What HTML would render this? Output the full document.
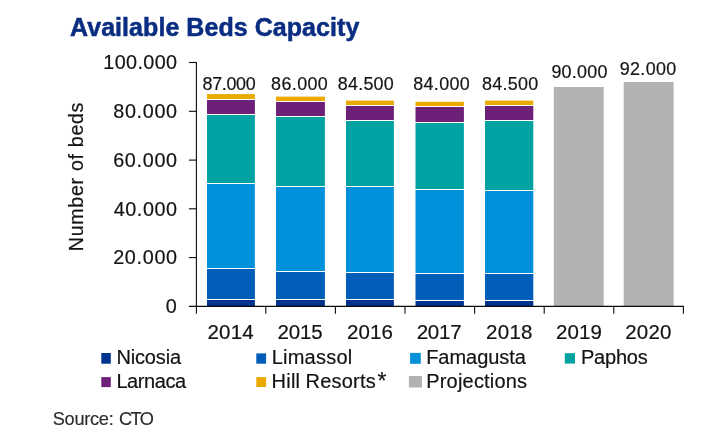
<!DOCTYPE html>
<html><head><meta charset="utf-8"><title>Available Beds Capacity</title>
<style>
html,body{margin:0;padding:0;background:#fff;}
body{width:715px;height:434px;overflow:hidden;font-family:"Liberation Sans",sans-serif;}
svg{display:block;}
svg text{font-family:"Liberation Sans",sans-serif;fill:#141414;stroke:#141414;stroke-width:0.2px;}
svg text.title{font-weight:bold;fill:#0a2d82;stroke:#0a2d82;stroke-width:0.5px;}
svg text.src{fill:#2b2b2b;stroke:#2b2b2b;stroke-width:0.15px;}
.ax line{stroke:#0a0a0a;stroke-width:1.1;}
</style></head><body>
<svg width="715" height="434" viewBox="0 0 715 434">
<rect width="715" height="434" fill="#fff"/>
<text x="70.00" y="36.00" font-size="25" letter-spacing="0.055" class="title">Available Beds Capacity</text>
<g><rect x="207.0" y="300.00" width="47.9" height="6.30" fill="#00338D"/>
<rect x="207.0" y="269.00" width="47.9" height="30.00" fill="#005EB8"/>
<rect x="207.0" y="184.00" width="47.9" height="84.00" fill="#0091DA"/>
<rect x="207.0" y="115.00" width="47.9" height="68.00" fill="#00A3A1"/>
<rect x="207.0" y="100.00" width="47.9" height="14.00" fill="#6D2077"/>
<rect x="207.0" y="94.10" width="47.9" height="4.90" fill="#EAAA00"/>
<rect x="276.0" y="300.00" width="48.9" height="6.30" fill="#00338D"/>
<rect x="276.0" y="272.00" width="48.9" height="27.00" fill="#005EB8"/>
<rect x="276.0" y="187.00" width="48.9" height="84.00" fill="#0091DA"/>
<rect x="276.0" y="117.00" width="48.9" height="69.00" fill="#00A3A1"/>
<rect x="276.0" y="102.00" width="48.9" height="14.00" fill="#6D2077"/>
<rect x="276.0" y="96.60" width="48.9" height="4.40" fill="#EAAA00"/>
<rect x="346.0" y="300.00" width="47.9" height="6.30" fill="#00338D"/>
<rect x="346.0" y="273.00" width="47.9" height="26.00" fill="#005EB8"/>
<rect x="346.0" y="187.00" width="47.9" height="85.00" fill="#0091DA"/>
<rect x="346.0" y="121.00" width="47.9" height="65.00" fill="#00A3A1"/>
<rect x="346.0" y="106.00" width="47.9" height="14.00" fill="#6D2077"/>
<rect x="346.0" y="100.60" width="47.9" height="4.40" fill="#EAAA00"/>
<rect x="415.5" y="301.00" width="48.4" height="5.30" fill="#00338D"/>
<rect x="415.5" y="274.00" width="48.4" height="26.00" fill="#005EB8"/>
<rect x="415.5" y="190.00" width="48.4" height="83.00" fill="#0091DA"/>
<rect x="415.5" y="123.00" width="48.4" height="66.00" fill="#00A3A1"/>
<rect x="415.5" y="107.00" width="48.4" height="15.00" fill="#6D2077"/>
<rect x="415.5" y="101.80" width="48.4" height="4.20" fill="#EAAA00"/>
<rect x="485.0" y="301.00" width="48.3" height="5.30" fill="#00338D"/>
<rect x="485.0" y="274.00" width="48.3" height="26.00" fill="#005EB8"/>
<rect x="485.0" y="191.00" width="48.3" height="82.00" fill="#0091DA"/>
<rect x="485.0" y="121.00" width="48.3" height="69.00" fill="#00A3A1"/>
<rect x="485.0" y="106.00" width="48.3" height="14.00" fill="#6D2077"/>
<rect x="485.0" y="100.60" width="48.3" height="4.40" fill="#EAAA00"/>
<rect x="553.8" y="87.0" width="49.9" height="219.3" fill="#B1B2B3"/>
<rect x="623.7" y="82.0" width="49.9" height="224.3" fill="#B1B2B3"/></g>
<g class="ax"><line x1="196.4" y1="61.95" x2="196.4" y2="313.7" />
<line x1="188.9" y1="306.4" x2="683.9" y2="306.4" />
<line x1="188.9" y1="257.60" x2="196.4" y2="257.60" />
<line x1="188.9" y1="208.80" x2="196.4" y2="208.80" />
<line x1="188.9" y1="160.10" x2="196.4" y2="160.10" />
<line x1="188.9" y1="111.30" x2="196.4" y2="111.30" />
<line x1="188.9" y1="62.50" x2="196.4" y2="62.50" />
<line x1="265.80" y1="306.4" x2="265.80" y2="313.7" />
<line x1="335.40" y1="306.4" x2="335.40" y2="313.7" />
<line x1="405.00" y1="306.4" x2="405.00" y2="313.7" />
<line x1="474.60" y1="306.4" x2="474.60" y2="313.7" />
<line x1="544.20" y1="306.4" x2="544.20" y2="313.7" />
<line x1="613.80" y1="306.4" x2="613.80" y2="313.7" />
<line x1="683.40" y1="306.4" x2="683.40" y2="313.7" /></g>
<g><text x="165.70" y="313.30" font-size="19.8" letter-spacing="0.000">0</text>
<text x="113.20" y="264.40" font-size="19.8" letter-spacing="0.680">20.000</text>
<text x="113.70" y="215.50" font-size="19.8" letter-spacing="0.580">40.000</text>
<text x="113.20" y="166.60" font-size="19.8" letter-spacing="0.680">60.000</text>
<text x="113.30" y="117.70" font-size="19.8" letter-spacing="0.660">80.000</text>
<text x="103.30" y="68.80" font-size="19.8" letter-spacing="0.383">100.000</text>
<text x="207.50" y="339.10" font-size="20.5" letter-spacing="0.200">2014</text>
<text x="277.50" y="339.10" font-size="20.5" letter-spacing="-0.133">2015</text>
<text x="347.00" y="339.10" font-size="20.5" letter-spacing="0.133">2016</text>
<text x="416.70" y="339.10" font-size="20.5" letter-spacing="-0.233">2017</text>
<text x="486.10" y="339.10" font-size="20.5" letter-spacing="0.267">2018</text>
<text x="555.90" y="339.10" font-size="20.5" letter-spacing="0.133">2019</text>
<text x="625.20" y="339.10" font-size="20.5" letter-spacing="0.233">2020</text>
<text x="202.50" y="89.70" font-size="17.9" letter-spacing="-0.320">87.000</text>
<text x="271.10" y="89.70" font-size="17.9" letter-spacing="0.400">86.000</text>
<text x="337.80" y="89.70" font-size="17.9" letter-spacing="0.240">84.500</text>
<text x="413.20" y="89.70" font-size="17.9" letter-spacing="0.360">84.000</text>
<text x="482.10" y="89.70" font-size="17.9" letter-spacing="0.300">84.500</text>
<text x="551.40" y="77.90" font-size="17.9" letter-spacing="0.260">90.000</text>
<text x="619.80" y="75.40" font-size="17.9" letter-spacing="0.320">92.000</text>
<text x="116.40" y="364.30" font-size="20.0" letter-spacing="-0.150">Nicosia</text>
<text x="116.40" y="387.50" font-size="20.0" letter-spacing="-0.417">Larnaca</text>
<text x="271.70" y="364.30" font-size="20.0" letter-spacing="0.229">Limassol</text>
<text x="426.20" y="364.30" font-size="20.0" letter-spacing="-0.038">Famagusta</text>
<text x="426.20" y="387.50" font-size="20.0" letter-spacing="0.200">Projections</text>
<text x="580.90" y="364.30" font-size="20.0" letter-spacing="-0.200">Paphos</text>
<text y="387.5" font-size="20.0"><tspan x="271.60" letter-spacing="0.233">Hill</tspan> <tspan x="305.50" letter-spacing="0.217">Resorts</tspan><tspan x="377.50" dy="1.9" font-size="23">*</tspan></text>
<text class="src" y="424.9" font-size="18.2"><tspan x="52.70" letter-spacing="-0.267">Source:</tspan> <tspan x="118.90" letter-spacing="-1.550">CTO</tspan></text>
<text transform="translate(82.6,251.20) rotate(-90)" font-size="19.6" letter-spacing="0.708">Number of beds</text></g>
<g><rect x="101.3" y="353.0" width="9.5" height="10.7" fill="#00338D"/>
<rect x="256.3" y="353.4" width="9.8" height="10.3" fill="#005EB8"/>
<rect x="410.1" y="352.9" width="10.7" height="10.9" fill="#0091DA"/>
<rect x="564.8" y="353.2" width="10.2" height="10.4" fill="#00A3A1"/>
<rect x="101.3" y="377.1" width="9.5" height="10.0" fill="#6D2077"/>
<rect x="256.3" y="377.1" width="9.8" height="9.9" fill="#EAAA00"/>
<rect x="408.9" y="376.0" width="13.1" height="11.5" fill="#B1B2B3"/></g>
</svg>
</body></html>
